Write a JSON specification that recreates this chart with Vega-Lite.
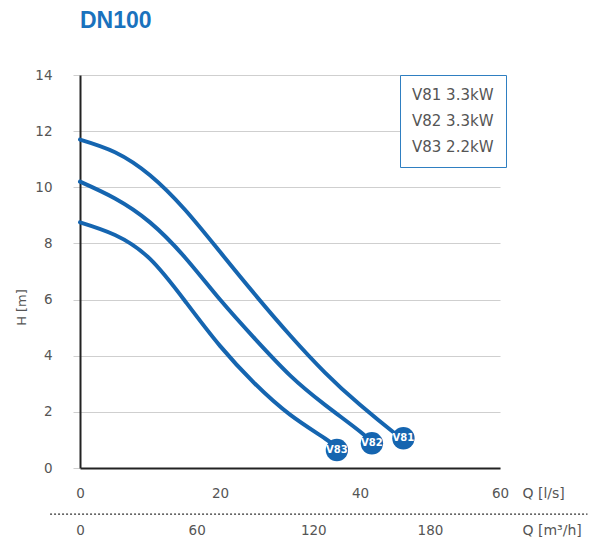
{
  "$schema": "https://vega.github.io/schema/vega-lite/v6.json",
  "width": 420,
  "height": 393,
  "autosize": {"type": "none"},
  "padding": {"left": 80, "top": 75, "right": 105, "bottom": 69},
  "background": "white",
  "config": {"view": {"stroke": null}, "font": "DejaVu Sans"},
  "title": {"text": "DN100", "anchor": "start", "frame": "group", "fontSize": 23, "fontWeight": "bold", "color": "#1a72bd", "font": "Liberation Sans", "offset": 35},
  "datasets": {
    "curves": [
      {"pump": "V81", "label": "V81 3.3kW", "q": 0, "h": 11.7},
      {"pump": "V81", "label": "V81 3.3kW", "q": 5, "h": 11.25},
      {"pump": "V81", "label": "V81 3.3kW", "q": 10, "h": 10.43},
      {"pump": "V81", "label": "V81 3.3kW", "q": 15, "h": 9.2},
      {"pump": "V81", "label": "V81 3.3kW", "q": 20, "h": 7.7},
      {"pump": "V81", "label": "V81 3.3kW", "q": 25, "h": 6.18},
      {"pump": "V81", "label": "V81 3.3kW", "q": 30, "h": 4.73},
      {"pump": "V81", "label": "V81 3.3kW", "q": 35, "h": 3.4},
      {"pump": "V81", "label": "V81 3.3kW", "q": 40, "h": 2.25},
      {"pump": "V81", "label": "V81 3.3kW", "q": 45, "h": 1.23},
      {"pump": "V81", "label": "V81 3.3kW", "q": 46.2, "h": 1.02},
      {"pump": "V82", "label": "V82 3.3kW", "q": 0, "h": 10.2},
      {"pump": "V82", "label": "V82 3.3kW", "q": 5, "h": 9.6},
      {"pump": "V82", "label": "V82 3.3kW", "q": 10, "h": 8.75},
      {"pump": "V82", "label": "V82 3.3kW", "q": 15, "h": 7.5},
      {"pump": "V82", "label": "V82 3.3kW", "q": 20, "h": 6.0},
      {"pump": "V82", "label": "V82 3.3kW", "q": 25, "h": 4.6},
      {"pump": "V82", "label": "V82 3.3kW", "q": 30, "h": 3.3},
      {"pump": "V82", "label": "V82 3.3kW", "q": 35, "h": 2.25},
      {"pump": "V82", "label": "V82 3.3kW", "q": 40, "h": 1.3},
      {"pump": "V82", "label": "V82 3.3kW", "q": 41.7, "h": 0.9},
      {"pump": "V83", "label": "V83 2.2kW", "q": 0, "h": 8.75},
      {"pump": "V83", "label": "V83 2.2kW", "q": 5, "h": 8.3},
      {"pump": "V83", "label": "V83 2.2kW", "q": 10, "h": 7.45},
      {"pump": "V83", "label": "V83 2.2kW", "q": 15, "h": 5.95},
      {"pump": "V83", "label": "V83 2.2kW", "q": 20, "h": 4.35},
      {"pump": "V83", "label": "V83 2.2kW", "q": 25, "h": 3.0},
      {"pump": "V83", "label": "V83 2.2kW", "q": 30, "h": 1.9},
      {"pump": "V83", "label": "V83 2.2kW", "q": 35, "h": 1.05},
      {"pump": "V83", "label": "V83 2.2kW", "q": 36.7, "h": 0.72}
    ],
    "badges": [
      {"pump": "V81", "q": 46.2, "h": 1.06},
      {"pump": "V82", "q": 41.7, "h": 0.88},
      {"pump": "V83", "q": 36.7, "h": 0.64}
    ]
  },
  "layer": [
    {
      "layer": [
        {
          "data": {"name": "curves"},
          "mark": {"type": "line", "interpolate": "natural", "strokeWidth": 4, "strokeCap": "round"},
          "encoding": {
            "x": {
              "field": "q", "type": "quantitative",
              "scale": {"domain": [0, 60], "nice": false, "zero": false},
              "axis": {
                "values": [0, 20, 40, 60], "grid": false, "ticks": false, "labelFlush": false,
                "domainColor": "#222", "domainWidth": 2,
                "labelPadding": 18, "labelFontSize": 13.5, "labelColor": "#555", "labelFont": "DejaVu Sans",
                "title": "Q [l/s]", "titleX": 442, "titleY": 25, "titleAlign": "left", "titleBaseline": "middle",
                "titleFontWeight": "normal", "titleFontSize": 14, "titleColor": "#555", "titleFont": "DejaVu Sans"
              }
            },
            "y": {
              "field": "h", "type": "quantitative",
              "scale": {"domain": [0, 14], "nice": false},
              "axis": {
                "values": [0, 2, 4, 6, 8, 10, 12, 14], "grid": true, "gridColor": "#cfcfcf", "gridWidth": 1,
                "ticks": true, "tickColor": "#cfcfcf", "tickSize": 7, "labelFlush": false,
                "domainColor": "#222", "domainWidth": 2,
                "labelPadding": 21, "labelFontSize": 13.5, "labelColor": "#555", "labelFont": "DejaVu Sans",
                "title": "H [m]", "titleX": -59, "titleY": 232, "titleAlign": "center", "titleBaseline": "middle",
                "titleFontWeight": "normal", "titleFontSize": 13, "titleColor": "#555", "titleFont": "DejaVu Sans"
              }
            },
            "color": {
              "field": "label", "type": "nominal",
              "scale": {"range": ["#1565b0", "#1565b0", "#1565b0"]},
              "legend": {
                "orient": "none", "legendX": 320, "legendY": 0, "title": null,
                "strokeColor": "#2f7fc1", "fillColor": "white", "padding": 12,
                "labelFontSize": 15, "labelColor": "#555", "labelFont": "DejaVu Sans",
                "symbolSize": 1, "symbolStrokeWidth": 0, "symbolOpacity": 0, "symbolType": "circle",
                "labelOffset": -15, "rowPadding": 10
              }
            },
            "detail": {"field": "pump"}
          }
        },
        {
          "data": {"name": "badges"},
          "mark": {"type": "point", "filled": true, "size": 500, "color": "#1565b0", "opacity": 1},
          "encoding": {
            "x": {"field": "q", "type": "quantitative"},
            "y": {"field": "h", "type": "quantitative"}
          }
        },
        {
          "data": {"name": "badges"},
          "mark": {"type": "text", "color": "white", "fontWeight": "bold", "fontSize": 10, "font": "DejaVu Sans"},
          "encoding": {
            "x": {"field": "q", "type": "quantitative"},
            "y": {"field": "h", "type": "quantitative"},
            "text": {"field": "pump"}
          }
        }
      ]
    },
    {
      "data": {"values": [{}]},
      "mark": {"type": "rule", "strokeDash": [2, 2], "color": "#333", "strokeWidth": 1.3},
      "encoding": {
        "x": {
          "datum": -15.4, "type": "quantitative",
          "scale": {"domain": [0, 216], "nice": false, "zero": false},
          "axis": {
            "orient": "bottom", "offset": 46, "values": [0, 60, 120, 180], "grid": false, "ticks": false, "domain": false, "labelFlush": false,
            "labelPadding": 9, "labelFontSize": 13.5, "labelColor": "#555", "labelFont": "DejaVu Sans",
            "title": "Q [m³/h]", "titleX": 442, "titleY": 16, "titleAlign": "left", "titleBaseline": "middle",
            "titleFontWeight": "normal", "titleFontSize": 14, "titleColor": "#555", "titleFont": "DejaVu Sans"
          }
        },
        "x2": {"datum": 261},
        "y": {"datum": -1.64, "type": "quantitative"}
      }
    }
  ],
  "resolve": {"scale": {"x": "independent"}, "axis": {"x": "independent"}}
}
